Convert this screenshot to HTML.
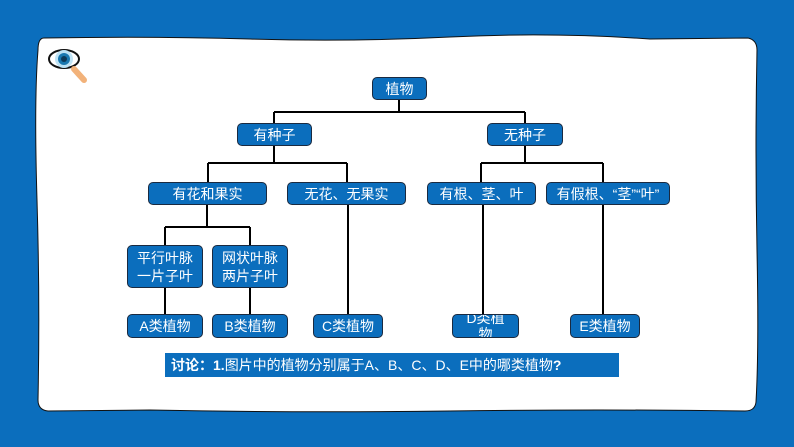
<!DOCTYPE html>
<html><head><meta charset="utf-8"><style>
html,body{margin:0;padding:0}
body{width:794px;height:447px;background:#0b6ebd;position:relative;overflow:hidden;font-family:"Liberation Sans","Noto Sans CJK SC",sans-serif}
.b{position:absolute;background:#0b6ebd;border:1px solid #1a2a40;border-radius:5px;color:#fff;font-size:14px;display:flex;align-items:center;justify-content:center;text-align:center;box-sizing:border-box;line-height:18px}
</style></head><body>
<svg width="794" height="447" style="position:absolute;left:0;top:0">
<path d="M44 38 Q150 36 250 39 T450 37 T650 39 L748 38 Q757 40 757 50 Q755 150 757 250 T756 402 Q755 411 745 411 Q600 409 450 411 T150 410 L48 411 Q38 410 38 400 Q40 300 37 200 T38 50 Q38 38 44 38Z" fill="#fff" stroke="#111" stroke-width="1"/>
<g stroke="#000" stroke-width="2" fill="none">
<path d="M399 99V112M274 112H525M274 112V123M525 112V123"/>
<path d="M274 146V163M208 163H347M208 163V182M347 163V182"/>
<path d="M525 146V163M481 163H603M481 163V182M603 163V182"/>
<path d="M207 205V227M165 227H250M165 227V245M250 227V245"/>
<path d="M165 288V320M250 288V320M348 205V320M483 205V320M603 205V320"/>
</g>
<ellipse cx="64" cy="59" rx="15" ry="9" fill="#fff" stroke="#111" stroke-width="2"/>
<circle cx="64" cy="59" r="9" fill="#bfe3f5"/>
<circle cx="64" cy="59" r="6" fill="#1a78b0"/>
<circle cx="64" cy="59" r="3" fill="#0d3a5a"/>
<line x1="74" y1="69" x2="84" y2="80" stroke="#f2b27a" stroke-width="6" stroke-linecap="round"/>
</svg>
<div class="b" style="left:372px;top:77px;width:55px;height:23px">植物</div>
<div class="b" style="left:237px;top:123px;width:75px;height:23px">有种子</div>
<div class="b" style="left:487px;top:123px;width:76px;height:23px">无种子</div>
<div class="b" style="left:148px;top:182px;width:119px;height:23px">有花和果实</div>
<div class="b" style="left:287px;top:182px;width:119px;height:23px">无花、无果实</div>
<div class="b" style="left:427px;top:182px;width:109px;height:23px">有根、茎、叶</div>
<div class="b" style="left:546px;top:182px;width:124px;height:23px">有假根、“茎”“叶”</div>
<div class="b" style="left:127px;top:245px;width:76px;height:43px">平行叶脉<br>一片子叶</div>
<div class="b" style="left:212px;top:245px;width:76px;height:43px">网状叶脉<br>两片子叶</div>
<div class="b" style="left:127px;top:314px;width:76px;height:24px">A类植物</div>
<div class="b" style="left:212px;top:314px;width:76px;height:24px">B类植物</div>
<div class="b" style="left:313px;top:314px;width:70px;height:24px">C类植物</div>
<div class="b" style="left:452px;top:314px;width:67px;height:24px;overflow:hidden;align-items:flex-start;line-height:16px"><div style="margin-top:-5px;width:40px">D类植物</div></div>
<div class="b" style="left:570px;top:314px;width:70px;height:24px">E类植物</div>
<div style="position:absolute;left:165px;top:353px;width:454px;height:24px;background:#0b6ebd;color:#fff;font-size:14px;line-height:24px;padding-left:6px;box-sizing:border-box"><b>讨论：1.</b>图片中的植物分别属于A、B、C、D、E中的哪类植物<b>?</b></div>
</body></html>
